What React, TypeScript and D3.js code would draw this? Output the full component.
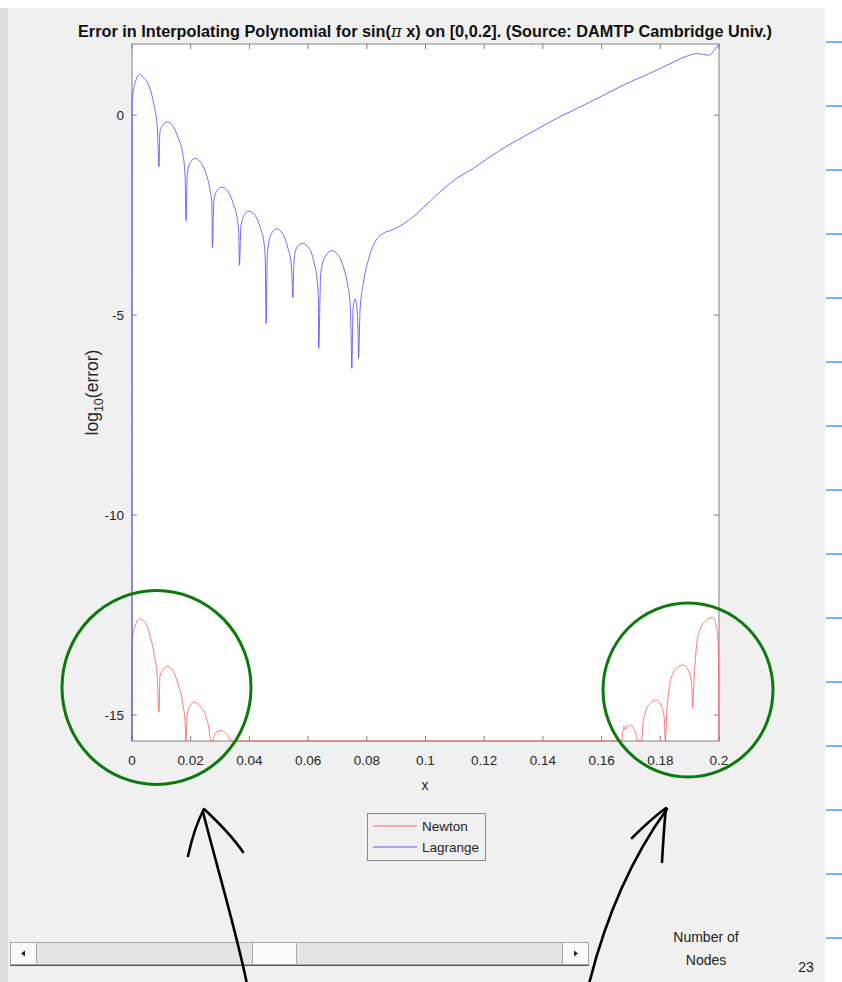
import React from 'react';
import * as d3 from 'd3';

const W = 842;
const H = 982;

// log10 of the error is clipped at machine epsilon
const FLOOR = -15.65;

const TITLE_MAIN = 'Error in Interpolating Polynomial for sin(';
const TITLE_PI = 'π';
const TITLE_REST = ' x) on [0,0.2]. (Source: DAMTP Cambridge Univ.)';

const xTickValues = [0, 0.02, 0.04, 0.06, 0.08, 0.1, 0.12, 0.14, 0.16, 0.18, 0.2];
const xTickLabels = ['0', '0.02', '0.04', '0.06', '0.08', '0.1', '0.12', '0.14', '0.16', '0.18', '0.2'];
const yTickValues = [-15, -10, -5, 0];
const yTickLabels = ['-15', '-10', '-5', '0'];

const seriesNames = ['Newton', 'Lagrange'];
const seriesColors = ['#ff5555', '#4848ff'];

// Newton form: error stays at round-off level except near the interval ends
const newton: [number, number][] = [
  [0, FLOOR], [0.00003, -13.15], [0.001, -12.79], [0.0025, -12.6], [0.0044, -12.67], [0.0061, -13.0],
  [0.0075, -13.46], [0.0086, -14.04], [0.0092, -14.92],
  [0.0095, -14.04], [0.0105, -13.875], [0.012, -13.775], [0.0141, -13.92], [0.0158, -14.25],
  [0.0173, -14.71], [0.0181, -15.21], [0.0184, FLOOR],
  [0.01885, -14.96], [0.02, -14.75], [0.0212, -14.68], [0.0232, -14.775], [0.0252, -15.04],
  [0.0263, -15.375], [0.0268, FLOOR],
  [0.0274, FLOOR], [0.0279, -15.54], [0.0289, -15.42], [0.0303, -15.39], [0.032, -15.46],
  [0.0334, -15.6], [0.0337, FLOOR],
  [0.1668, FLOOR], [0.1672, -15.46], [0.1676, -15.29], [0.1681, -15.375], [0.1686, -15.26],
  [0.1691, -15.29], [0.1699, -15.25], [0.1706, -15.27], [0.1711, -15.375], [0.1717, -15.46], [0.1722, FLOOR],
  [0.1737, FLOOR], [0.174, -15.29], [0.1748, -14.96], [0.1765, -14.71], [0.1788, -14.625],
  [0.1805, -14.79], [0.1814, -15.125], [0.1817, FLOOR],
  [0.1822, -14.96], [0.1833, -14.21], [0.185, -13.875], [0.1878, -13.75], [0.1895, -13.875],
  [0.1907, -14.21], [0.191, -14.83],
  [0.1915, -14.125], [0.1922, -13.375], [0.1935, -12.875], [0.1958, -12.625], [0.1978, -12.56],
  [0.199, -12.76], [0.1997, -13.17], [0.2, FLOOR],
];

// Lagrange form: round-off grows quickly towards the right end
const lagrange: [number, number][] = [
  [0, FLOOR], [0.00003, 0.35], [0.001, 0.79], [0.0027, 1.025], [0.0037, 0.96], [0.0061, 0.67],
  [0.0076, 0.21], [0.0086, -0.29], [0.0092, -1.29],
  [0.0095, -0.42], [0.0105, -0.25], [0.012, -0.17], [0.0141, -0.29], [0.0158, -0.58],
  [0.0173, -0.96], [0.0181, -1.54], [0.0184, -2.64],
  [0.01885, -1.46], [0.02, -1.17], [0.0215, -1.08], [0.0237, -1.21], [0.0254, -1.5],
  [0.0266, -1.875], [0.0272, -2.21], [0.0274, -3.31],
  [0.0279, -2.125], [0.0291, -1.875], [0.0306, -1.8], [0.0328, -1.92], [0.0345, -2.21],
  [0.0359, -2.625], [0.0364, -2.96], [0.0366, -3.75],
  [0.0371, -2.79], [0.0382, -2.5], [0.0396, -2.4], [0.0419, -2.5], [0.0436, -2.79],
  [0.045, -3.21], [0.0454, -3.625], [0.0457, -5.21],
  [0.0461, -3.46], [0.0473, -3.0], [0.0491, -2.84], [0.0513, -2.96], [0.053, -3.29],
  [0.0542, -3.71], [0.0545, -4.04], [0.0548, -4.56],
  [0.0552, -3.625], [0.0563, -3.29], [0.0582, -3.21], [0.0604, -3.33], [0.0621, -3.71],
  [0.0631, -4.125], [0.0635, -4.625], [0.0636, -5.83],
  [0.0643, -3.96], [0.0658, -3.54], [0.068, -3.39], [0.0703, -3.5], [0.072, -3.79],
  [0.0734, -4.21], [0.0743, -4.71], [0.0746, -5.29], [0.0749, -6.33],
  [0.0753, -4.875], [0.076, -4.6], [0.0767, -4.875], [0.077, -5.375], [0.0772, -6.08],
  [0.0777, -4.875], [0.0788, -4.21], [0.0805, -3.625], [0.0828, -3.17], [0.0856, -2.96],
  [0.089, -2.86], [0.0924, -2.725], [0.0958, -2.54], [0.0993, -2.31], [0.1049, -1.92],
  [0.1106, -1.58], [0.1163, -1.33], [0.122, -1.04], [0.1277, -0.775], [0.1334, -0.54],
  [0.139, -0.31], [0.1447, -0.08], [0.1504, 0.125], [0.1561, 0.33], [0.1617, 0.54],
  [0.1674, 0.75], [0.1731, 0.94], [0.1788, 1.125], [0.1845, 1.33], [0.189, 1.475],
  [0.1924, 1.54], [0.1947, 1.52], [0.1964, 1.5], [0.1975, 1.54], [0.1986, 1.64], [0.2, 1.78],
];

const seriesData = [newton, lagrange];

const FONT = '"Liberation Sans", Arial, Helvetica, sans-serif';

export default function App() {
  const plot = { left: 132, right: 719, top: 44, bottom: 741 };
  const allY = [...newton, ...lagrange].map((d) => d[1]);
  const x = d3.scaleLinear().domain([0, 0.2]).range([plot.left, plot.right]);
  const y = d3
    .scaleLinear()
    .domain([d3.min(allY) as number, d3.max(allY) as number])
    .range([plot.bottom, plot.top]);

  const line = d3
    .line<[number, number]>()
    .x((d) => x(d[0]))
    .y((d) => y(d[1]))
    .curve(d3.curveMonotoneX);

  const tickLen = 5;
  const axisColor = '#808080';
  const textColor = '#262626';

  // decorative separators on the right margin
  const sideLines = d3.range(15).map((i) => 42 + i * 64);

  return (
    <svg
      width={W}
      height={H}
      viewBox={`0 0 ${W} ${H}`}
      style={{ position: 'absolute', left: 0, top: 0, display: 'block' }}
      fontFamily={FONT}
    >
      {/* window background */}
      <rect x={0} y={0} width={W} height={H} fill="#ffffff" />
      <rect x={0} y={8} width={825} height={H - 8} fill="#f0f0f0" />
      <rect x={0} y={8} width={8} height={H - 8} fill="#dcdcdc" />
      {sideLines.map((ly, i) => (
        <line key={i} x1={826} x2={842} y1={ly} y2={ly} stroke="#3f93ee" strokeWidth={1.4} />
      ))}

      {/* title */}
      <text
        x={425}
        y={37}
        textAnchor="middle"
        fontSize={16}
        fontWeight="bold"
        fill="#111"
        textLength={694}
        lengthAdjust="spacingAndGlyphs"
      >
        {TITLE_MAIN}
        <tspan fontStyle="italic" fontFamily='"DejaVu Serif", serif' fontWeight="normal">{TITLE_PI}</tspan>
        {TITLE_REST}
      </text>

      {/* axes box */}
      <rect
        x={plot.left}
        y={plot.top}
        width={plot.right - plot.left}
        height={plot.bottom - plot.top}
        fill="#ffffff"
        stroke={axisColor}
        strokeWidth={1}
      />

      {/* ticks on all four sides */}
      {xTickValues.map((v, i) => (
        <g key={`xt${i}`}>
          <line x1={x(v)} x2={x(v)} y1={plot.bottom} y2={plot.bottom - tickLen} stroke={axisColor} />
          <line x1={x(v)} x2={x(v)} y1={plot.top} y2={plot.top + tickLen} stroke={axisColor} />
          <text x={x(v)} y={plot.bottom + 24} textAnchor="middle" fontSize={13.5} fill={textColor}>
            {xTickLabels[i]}
          </text>
        </g>
      ))}
      {yTickValues.map((v, i) => (
        <g key={`yt${i}`}>
          <line x1={plot.left} x2={plot.left + tickLen} y1={y(v)} y2={y(v)} stroke={axisColor} />
          <line x1={plot.right} x2={plot.right - tickLen} y1={y(v)} y2={y(v)} stroke={axisColor} />
          <text x={plot.left - 8} y={y(v) + 5} textAnchor="end" fontSize={13.5} fill={textColor}>
            {yTickLabels[i]}
          </text>
        </g>
      ))}

      {/* axis labels */}
      <text x={425} y={790} textAnchor="middle" fontSize={14} fill={textColor}>
        x
      </text>
      <text
        transform={`translate(98, ${(plot.top + plot.bottom) / 2}) rotate(-90)`}
        textAnchor="middle"
        fontSize={17.5}
        fill={textColor}
      >
        log
        <tspan fontSize={12.5} dy={5}>10</tspan>
        <tspan dy={-5}>(error)</tspan>
      </text>

      {/* error curves */}
      {seriesData.map((s, i) => (
        <path
          key={seriesNames[i]}
          d={line(s) || ''}
          fill="none"
          stroke={seriesColors[i]}
          strokeWidth={0.8}
          strokeLinejoin="round"
        />
      ))}

      {/* legend */}
      <g>
        <rect x={367.5} y={813.5} width={118} height={47} fill="#f0f0f0" stroke="#8c8c8c" strokeWidth={1} />
        {seriesNames.map((name, i) => (
          <g key={name}>
            <line x1={373} x2={417} y1={826 + i * 21} y2={826 + i * 21} stroke={seriesColors[i]} strokeWidth={0.9} />
            <text x={422} y={831 + i * 21} fontSize={13.5} fill={textColor}>
              {name}
            </text>
          </g>
        ))}
      </g>

      {/* slider control */}
      <g>
        <rect x={10.5} y={942.5} width={578} height={22} fill="#e4e4e4" stroke="#a8a8a8" />
        <rect x={10.5} y={942.5} width={26} height={22} fill="#fafafa" stroke="#a8a8a8" />
        <rect x={562.5} y={942.5} width={26} height={22} fill="#fafafa" stroke="#a8a8a8" />
        <rect x={252.5} y={942.5} width={44} height={22} fill="#fbfbfb" stroke="#a8a8a8" />
        <line x1={10} x2={589} y1={965.5} y2={965.5} stroke="#555" strokeWidth={1.2} />
        <path d="M 21 953.5 L 25 950.5 L 25 956.5 Z" fill="#222" />
        <path d="M 578 953.5 L 574 950.5 L 574 956.5 Z" fill="#222" />
      </g>
      <text x={706} y={942} textAnchor="middle" fontSize={14} fill="#222">
        Number of
      </text>
      <text x={706} y={965} textAnchor="middle" fontSize={14} fill="#222">
        Nodes
      </text>
      <text x={806} y={972} textAnchor="middle" fontSize={14} fill="#222">
        23
      </text>

      {/* hand-drawn highlights */}
      <ellipse cx={156.5} cy={687.5} rx={94.5} ry={97} fill="none" stroke="#0a7a0a" strokeWidth={3} />
      <ellipse cx={688} cy={690} rx={85} ry={87} fill="none" stroke="#0a7a0a" strokeWidth={3} />
      <g fill="none" stroke="#000" strokeWidth={2.6} strokeLinecap="round" strokeLinejoin="round">
        <path d="M 247 984 C 236 930, 215 860, 203 812" />
        <path d="M 188 856 C 192 838, 197 822, 204 809 C 218 822, 232 836, 243 852" />
        <path d="M 589 984 C 605 920, 630 860, 667 809" />
        <path d="M 632 838 C 642 828, 655 816, 666 808 C 664 826, 663 845, 662 862" />
      </g>
    </svg>
  );
}
